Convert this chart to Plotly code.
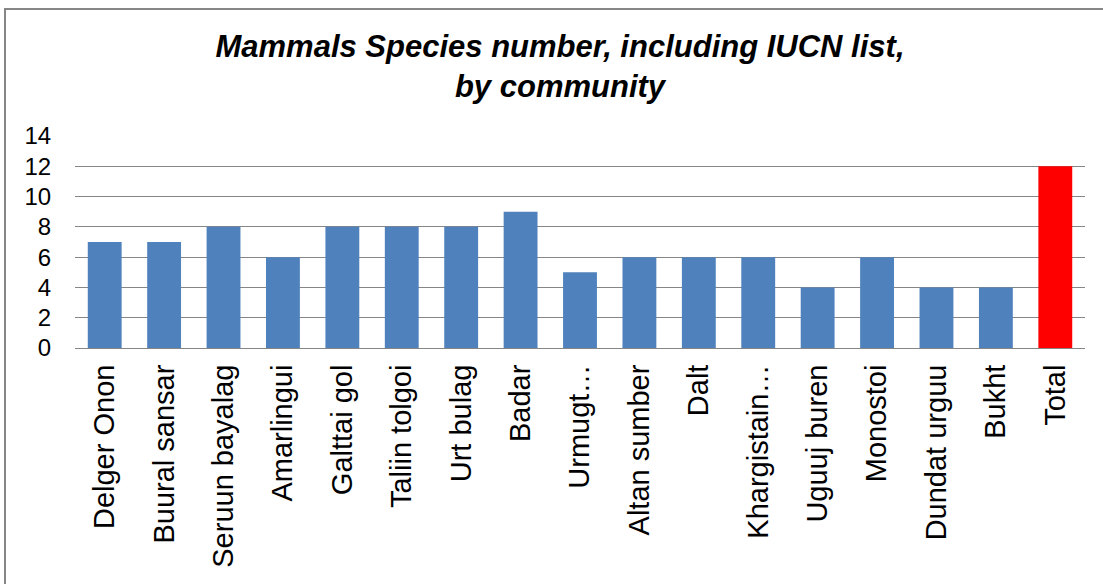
import plotly.graph_objects as go

categories = ["Delger Onon", "Buural sansar", "Seruun bayalag", "Amarlingui", "Galttai gol",
              "Taliin tolgoi", "Urt bulag", "Badar", "Urmugt…", "Altan sumber", "Dalt",
              "Khargistain…", "Uguuj buren", "Monostoi", "Dundat urguu", "Bukht", "Total"]
values = [7, 7, 8, 6, 8, 8, 8, 9, 5, 6, 6, 6, 4, 6, 4, 4, 12]
y_ticks = [0, 2, 4, 6, 8, 10, 12, 14]

W, H = 1103, 584
ML, MR, MT, MB = 75, 18, 136, 236
PW, PH = W - ML - MR, H - MT - MB

colors = ["#FF0000" if c == "Total" else "#4F81BD" for c in categories]

fig = go.Figure(go.Bar(x=categories, y=values, marker=dict(color=colors, line=dict(width=0))))

FONT = "Arial, Liberation Sans, sans-serif"

def px_x(p):
    return (p - ML) / PW

def px_y(p):
    return (H - MB - p) / PH

fig.update_layout(
    width=W, height=H,
    margin=dict(l=ML, r=MR, t=MT, b=MB, autoexpand=False),
    paper_bgcolor="white", plot_bgcolor="white",
    bargap=0.43,
    showlegend=False,
    title=dict(
        text="<b><i>Mammals Species number, including IUCN list,<br>by community</i></b>",
        font=dict(family=FONT, size=31, color="black"),
        x=560 / W, xanchor="center", xref="container",
        y=1 - 57 / H, yanchor="top", yref="container",
    ),
    xaxis=dict(
        tickangle=-90,
        tickfont=dict(family=FONT, size=29, color="black"),
        showline=True, linecolor="#868686", linewidth=1,
        showgrid=False, ticks="outside", ticklen=0,
        ticklabelstandoff=4,
    ),
    yaxis=dict(
        range=[0, 14], tickvals=y_ticks,
        tickfont=dict(family=FONT, size=24, color="black"),
        showgrid=True, gridcolor="#868686", gridwidth=1,
        zeroline=False, showline=False,
        ticks="outside", ticklen=0, ticklabelstandoff=18,
    ),
    shapes=[dict(
        type="rect", xref="paper", yref="paper",
        x0=px_x(5), x1=px_x(1108), y0=px_y(595), y1=px_y(9),
        line=dict(color="#868686", width=2), fillcolor="rgba(0,0,0,0)", layer="above",
    )],
)

fig.write_html("out.html")
